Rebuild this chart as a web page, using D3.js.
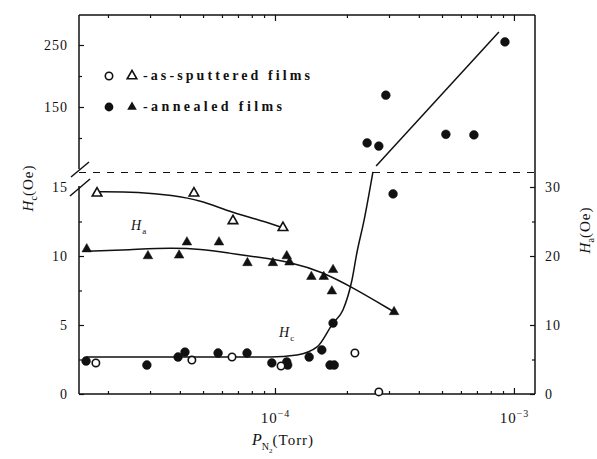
<!DOCTYPE html>
<html>
<head>
<meta charset="utf-8">
<script src="https://cdn.jsdelivr.net/npm/d3@7"></script>
<style>
body { margin: 0; background: #fff; }
svg text { font-family: "Liberation Serif", "Times New Roman", serif; fill: #111; }
.line { fill: none; stroke: #111; stroke-width: 1.5; }
.tick line { stroke: #111; stroke-width: 1.2; }
</style>
</head>
<body>
<svg id="chart" width="597" height="459"></svg>
<script>
// as-sputtered films, Hc (open circles)
var spHcX = [1.78e-5, 4.49e-5, 6.61e-5, 1.06e-4, 2.16e-4, 2.72e-4];
var spHcY = [2.25, 2.46, 2.68, 2.03, 2.97, 0.15];
// as-sputtered films, Ha (open triangles, right axis)
var spHaX = [1.80e-5, 4.58e-5, 6.67e-5, 1.08e-4];
var spHaY = [29.1, 29.1, 25.1, 24.1];
// annealed films, Hc (filled circles, lower part)
var anHcX = [1.62e-5, 2.91e-5, 3.93e-5, 4.20e-5, 5.78e-5, 7.64e-5, 9.70e-5, 1.12e-4, 1.13e-4, 1.39e-4, 1.57e-4, 1.75e-4, 1.70e-4, 1.77e-4, 3.12e-4];
var anHcY = [2.39, 2.10, 2.68, 3.04, 2.97, 2.97, 2.25, 2.32, 2.10, 2.68, 3.19, 5.14, 2.10, 2.10, 14.5];
// annealed films, Hc above the break (upper part)
var anHcUpX = [2.43e-4, 2.72e-4, 2.91e-4, 5.19e-4, 6.80e-4, 9.17e-4];
var anHcUpY = [92, 87, 169, 106, 105, 255];
// annealed films, Ha (filled triangles, right axis)
var anHaX = [1.63e-5, 2.94e-5, 3.97e-5, 4.28e-5, 5.83e-5, 7.67e-5, 9.8e-5, 1.12e-4, 1.15e-4, 1.42e-4, 1.60e-4, 1.75e-4, 1.73e-4, 3.15e-4];
var anHaY = [21.0, 20.0, 20.1, 22.0, 22.0, 19.0, 19.0, 20.0, 19.1, 17.0, 17.0, 18.0, 14.9, 11.9];

// fitted curves
var fitSpHaX = [1.80e-5, 2.72e-5, 3.71e-5, 4.86e-5, 6.48e-5, 8.25e-5, 1.08e-4];
var fitSpHaY = [29.3, 29.3, 28.8, 28.1, 26.4, 25.4, 24.1];
var fitAnHaX = [1.63e-5, 2.45e-5, 3.71e-5, 4.86e-5, 6.48e-5, 8.25e-5, 1.18e-4, 1.57e-4, 2.10e-4, 3.15e-4];
var fitAnHaY = [20.7, 20.9, 21.2, 21.0, 20.4, 19.9, 19.1, 17.7, 15.5, 11.9];
var fitHcX = [1.62e-5, 4.85e-5, 9.53e-5, 1.236e-4, 1.50e-4, 1.75e-4, 1.925e-4, 2.10e-4, 2.20e-4, 2.36e-4, 2.57e-4];
var fitHcY = [2.68, 2.68, 2.68, 2.83, 3.41, 5.14, 6.09, 8.26, 10.2, 12.6, 16.1];
var fitHcUpX = [2.65e-4, 8.65e-4];
var fitHcUpY = [55, 271];

var lowTicks = [0, 5, 10, 15];
var lowMinor = [2.5, 7.5, 12.5];
var upTicks = [150, 250];
var upMinor = [100, 200];
var haTicks = [0, 10, 20, 30];
var haMinor = [5, 15, 25];
var xMajor = [1e-4, 1e-3];
var xMinor = [2e-5, 3e-5, 4e-5, 5e-5, 6e-5, 7e-5, 8e-5, 9e-5, 2e-4, 3e-4, 4e-4, 5e-4, 6e-4, 7e-4, 8e-4, 9e-4];

var L = 79, R = 535, T = 15, B = 394, BREAK = 172.5;

var svg = d3.select("#chart");

var x = d3.scaleLog().domain([1.513e-5, 1.225e-3]).range([L, R]);
var yLow = d3.scaleLinear().domain([0, 15]).range([B, 187]);
var yHa = d3.scaleLinear().domain([0, 30]).range([B, 187]);
var yUp = d3.scaleLinear().domain([150, 250]).range([107, 45]);

function zip(xs, ys) {
    return xs.map(function (v, i) { return [v, ys[i]]; });
}

// axes
function styleAxis(g) {
    g.select(".domain").remove();
    g.selectAll(".tick text").attr("font-size", 14).attr("letter-spacing", 1);
}

svg.append("g").attr("transform", "translate(" + L + ",0)")
    .call(d3.axisLeft(yLow).tickValues(lowTicks).tickSize(-5).tickPadding(11).tickFormat(d3.format("d")))
    .call(styleAxis);
svg.append("g").attr("transform", "translate(" + L + ",0)")
    .call(d3.axisLeft(yLow).tickValues(lowMinor).tickSize(-3).tickFormat(""))
    .call(styleAxis);
svg.append("g").attr("transform", "translate(" + L + ",0)")
    .call(d3.axisLeft(yUp).tickValues(upTicks).tickSize(-5).tickPadding(11).tickFormat(d3.format("d")))
    .call(styleAxis);
svg.append("g").attr("transform", "translate(" + L + ",0)")
    .call(d3.axisLeft(yUp).tickValues(upMinor).tickSize(-3).tickFormat(""))
    .call(styleAxis);
svg.append("g").attr("transform", "translate(" + R + ",0)")
    .call(d3.axisRight(yHa).tickValues(haTicks).tickSize(-5).tickPadding(10).tickFormat(d3.format("d")))
    .call(styleAxis);
svg.append("g").attr("transform", "translate(" + R + ",0)")
    .call(d3.axisRight(yHa).tickValues(haMinor).tickSize(-3).tickFormat(""))
    .call(styleAxis);

// 15 tick is hidden behind the break
svg.selectAll(".tick").filter(function (d) { return d === 15; }).select("line").remove();

var xAxisMajor = svg.append("g").attr("transform", "translate(0," + B + ")")
    .call(d3.axisBottom(x).tickValues(xMajor).tickSize(-6).tickPadding(18))
    .call(styleAxis);
xAxisMajor.selectAll(".tick text").each(function (d) {
    var t = d3.select(this).text(null).attr("font-size", 15);
    t.append("tspan").text("10");
    t.append("tspan").text("\u2212" + Math.round(-Math.log10(d))).attr("font-size", 10).attr("dy", "-0.55em");
});
svg.append("g").attr("transform", "translate(0," + B + ")")
    .call(d3.axisBottom(x).tickValues(xMinor).tickSize(-3).tickFormat(""))
    .call(styleAxis);
svg.append("g").attr("transform", "translate(0," + T + ")")
    .call(d3.axisTop(x).tickValues(xMajor).tickSize(-6).tickFormat(""))
    .call(styleAxis);
svg.append("g").attr("transform", "translate(0," + T + ")")
    .call(d3.axisTop(x).tickValues(xMinor).tickSize(-3).tickFormat(""))
    .call(styleAxis);

// frame
var frame = svg.append("g").attr("stroke", "#111").attr("stroke-width", 1.5);
frame.append("line").attr("x1", L).attr("x2", R).attr("y1", T).attr("y2", T);
frame.append("line").attr("x1", L).attr("x2", R).attr("y1", B).attr("y2", B);
frame.append("line").attr("x1", R).attr("x2", R).attr("y1", T).attr("y2", B);
frame.append("line").attr("x1", L).attr("x2", L).attr("y1", T).attr("y2", 169);
frame.append("line").attr("x1", L).attr("x2", L).attr("y1", 186).attr("y2", B);
// break marks
frame.append("line").attr("x1", 71).attr("y1", 177).attr("x2", 89).attr("y2", 162);
frame.append("line").attr("x1", 70).attr("y1", 196).attr("x2", 90).attr("y2", 179);
svg.append("line").attr("x1", L).attr("x2", R).attr("y1", BREAK).attr("y2", BREAK)
    .attr("stroke", "#111").attr("stroke-width", 1.2).attr("stroke-dasharray", "7,7");

// curves
var lineLow = d3.line().x(function (d) { return x(d[0]); }).y(function (d) { return yLow(d[1]); }).curve(d3.curveMonotoneX);
var lineHa = d3.line().x(function (d) { return x(d[0]); }).y(function (d) { return yHa(d[1]); }).curve(d3.curveBasis);
var lineUp = d3.line().x(function (d) { return x(d[0]); }).y(function (d) { return yUp(d[1]); });

svg.append("path").attr("class", "line").attr("d", lineHa(zip(fitSpHaX, fitSpHaY)));
svg.append("path").attr("class", "line").attr("d", lineHa(zip(fitAnHaX, fitAnHaY)));
svg.append("path").attr("class", "line").attr("d", lineLow(zip(fitHcX, fitHcY)));
svg.append("path").attr("class", "line").attr("d", lineUp(zip(fitHcUpX, fitHcUpY)));

// markers
var tri = d3.symbol().type(d3.symbolTriangle).size(40);

function circles(data, ys, open) {
    svg.append("g").selectAll("circle").data(data).join("circle")
        .attr("cx", function (d) { return x(d[0]); })
        .attr("cy", function (d) { return ys(d[1]); })
        .attr("r", open ? 3.7 : 4.4)
        .attr("fill", open ? "#fff" : "#111")
        .attr("stroke", "#111")
        .attr("stroke-width", open ? 1.6 : 0.5);
}
function triangles(data, ys, open) {
    svg.append("g").selectAll("path").data(data).join("path")
        .attr("transform", function (d) { return "translate(" + x(d[0]) + "," + ys(d[1]) + ")"; })
        .attr("d", tri)
        .attr("fill", open ? "#fff" : "#111")
        .attr("stroke", "#111")
        .attr("stroke-width", open ? 1.6 : 0.5);
}

triangles(zip(spHaX, spHaY), yHa, true);
triangles(zip(anHaX, anHaY), yHa, false);
circles(zip(anHcX, anHcY), yLow, false);
circles(zip(anHcUpX, anHcUpY), yUp, false);
circles(zip(spHcX, spHcY), yLow, true);

// legend
var leg = svg.append("g");
leg.append("circle").attr("cx", 109).attr("cy", 76).attr("r", 3.7).attr("fill", "#fff").attr("stroke", "#111").attr("stroke-width", 1.6);
leg.append("path").attr("transform", "translate(132,76)").attr("d", tri).attr("fill", "#fff").attr("stroke", "#111").attr("stroke-width", 1.6);
leg.append("circle").attr("cx", 109).attr("cy", 107).attr("r", 4.4).attr("fill", "#111");
leg.append("path").attr("transform", "translate(132,107)").attr("d", tri).attr("fill", "#111");
leg.append("text").attr("x", 143).attr("y", 80).attr("font-size", 14).attr("font-weight", "bold")
    .attr("textLength", 167).attr("lengthAdjust", "spacing").text("-as-sputtered films");
leg.append("text").attr("x", 143).attr("y", 111).attr("font-size", 14).attr("font-weight", "bold")
    .attr("textLength", 139).attr("lengthAdjust", "spacing").text("-annealed films");

// curve labels
function hLabel(px, py, sub) {
    var t = svg.append("text").attr("x", px).attr("y", py).attr("font-size", 14);
    t.append("tspan").attr("font-style", "italic").text("H");
    t.append("tspan").attr("font-size", 9).attr("dy", 4).attr("dx", 1).text(sub);
}
hLabel(131, 230, "a");
hLabel(279, 337, "c");

// axis titles
var yt = svg.append("text").attr("transform", "translate(33,188) rotate(-90)")
    .attr("text-anchor", "middle").attr("font-size", 15);
yt.append("tspan").attr("font-style", "italic").text("H");
yt.append("tspan").attr("font-size", 10).attr("dy", 4).text("c");
yt.append("tspan").attr("dy", -4).attr("letter-spacing", 1).text("(Oe)");

var yt2 = svg.append("text").attr("transform", "translate(590,230) rotate(-90)")
    .attr("text-anchor", "middle").attr("font-size", 15);
yt2.append("tspan").attr("font-style", "italic").text("H");
yt2.append("tspan").attr("font-size", 10).attr("dy", 4).text("a");
yt2.append("tspan").attr("dy", -4).attr("letter-spacing", 1).text("(Oe)");

var xt = svg.append("text").attr("x", 252).attr("y", 445).attr("font-size", 16);
xt.append("tspan").attr("font-style", "italic").text("P");
xt.append("tspan").attr("font-size", 10).attr("dy", 5).text("N");
xt.append("tspan").attr("font-size", 7).attr("dy", 3).text("2");
xt.append("tspan").attr("dy", -8).attr("letter-spacing", 1).attr("font-size", 15).text("(Torr)");
</script>
</body>
</html>
